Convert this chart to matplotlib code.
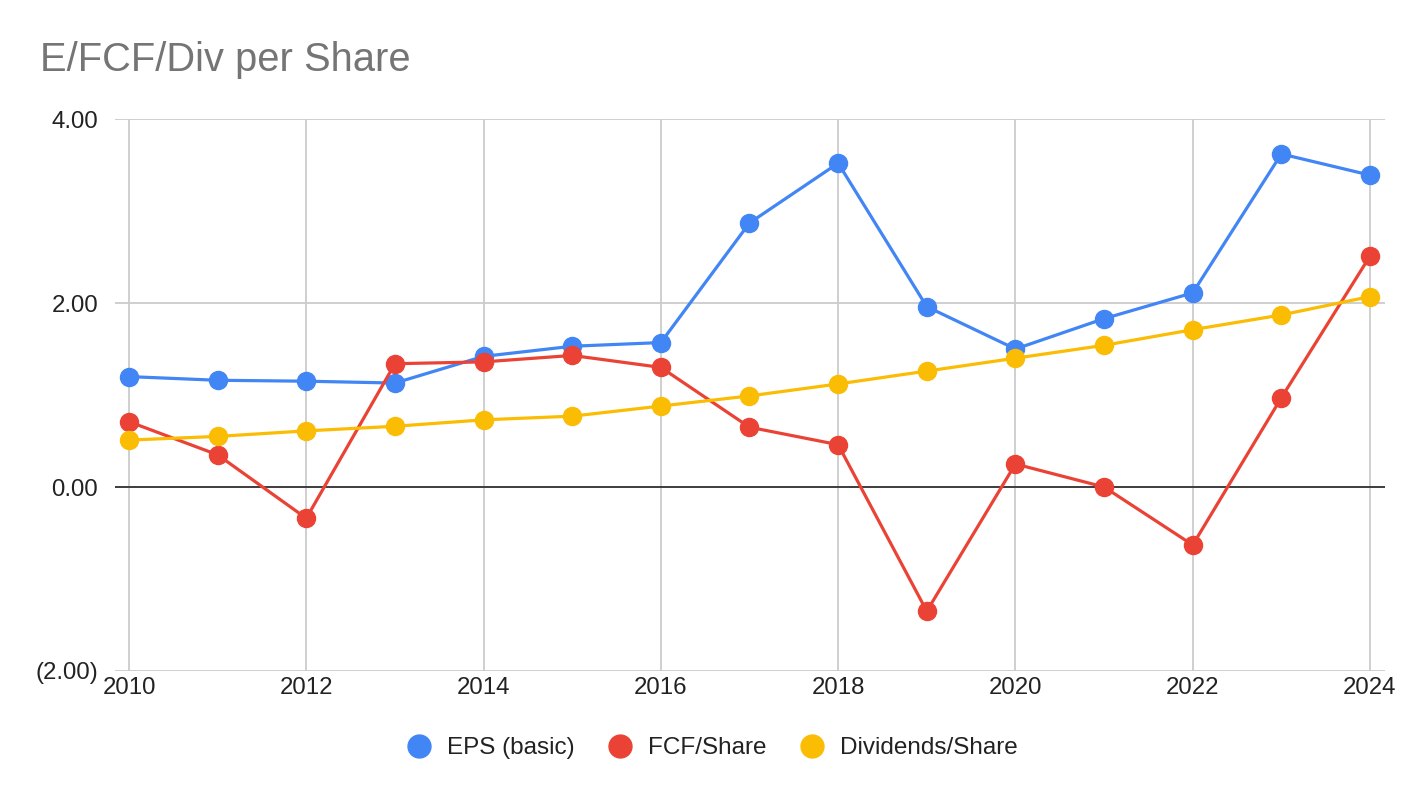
import matplotlib
matplotlib.use('Agg')
import matplotlib.pyplot as plt
from matplotlib.ticker import FuncFormatter

plt.rcParams['font.family'] = ['Liberation Sans', 'DejaVu Sans']

years = list(range(2010, 2025))
eps_basic = [1.20, 1.16, 1.15, 1.13, 1.42, 1.53, 1.57, 2.87, 3.52, 1.96, 1.50, 1.83, 2.11, 3.62, 3.39]
fcf_share = [0.71, 0.35, -0.34, 1.34, 1.36, 1.43, 1.30, 0.65, 0.46, -1.35, 0.25, 0.00, -0.63, 0.97, 2.51]
div_share = [0.51, 0.55, 0.61, 0.66, 0.73, 0.77, 0.88, 0.99, 1.12, 1.26, 1.40, 1.54, 1.71, 1.87, 2.07]

series = [
    ("EPS (basic)", eps_basic, "#4285F4"),
    ("FCF/Share", fcf_share, "#EA4335"),
    ("Dividends/Share", div_share, "#FBBC04"),
]

fig = plt.figure(figsize=(14.24, 7.98), dpi=100)
ax = fig.add_axes([115 / 1424, 127 / 798, 1270 / 1424, 552 / 798])

for label, vals, color in series:
    ax.plot(years, vals, color=color, lw=2.3, marker='o', markersize=13,
            label=label, zorder=3, clip_on=False)

ax.set_xlim(2010 - 14 / 88.64, 2024 + 15 / 88.64)
ax.set_ylim(-2, 4)
ax.set_xticks(range(2010, 2025, 2))
ax.set_yticks([-2, 0, 2, 4])

def fmt(v, pos):
    return f"({abs(v):.2f})" if v < 0 else f"{v:.2f}"

ax.yaxis.set_major_formatter(FuncFormatter(fmt))
ax.grid(True, color='#cccccc', lw=1.3, zorder=0)
ax.axhline(0, color='#333333', lw=1.3, zorder=2)
for s in ax.spines.values():
    s.set_visible(False)
ax.tick_params(axis='both', length=0, labelsize=17.3, colors='#222222')
ax.tick_params(axis='y', pad=12)
ax.tick_params(axis='x', pad=4)

fig.text(40 / 1424, 1 - 60 / 798, "E/FCF/Div per Share", fontsize=28.7,
         color='#757575', va='center', ha='left')

leg = ax.legend(loc='center', bbox_to_anchor=(0.4705, -0.14), ncol=3, frameon=False,
                fontsize=17.5, handlelength=1.0, handletextpad=0.66, columnspacing=1.36,
                markerscale=1.27)
for h in leg.legend_handles:
    h.set_linestyle('none')
for t in leg.get_texts():
    t.set_color('#222222')

fig.savefig('out.png', dpi=100, facecolor='white')
